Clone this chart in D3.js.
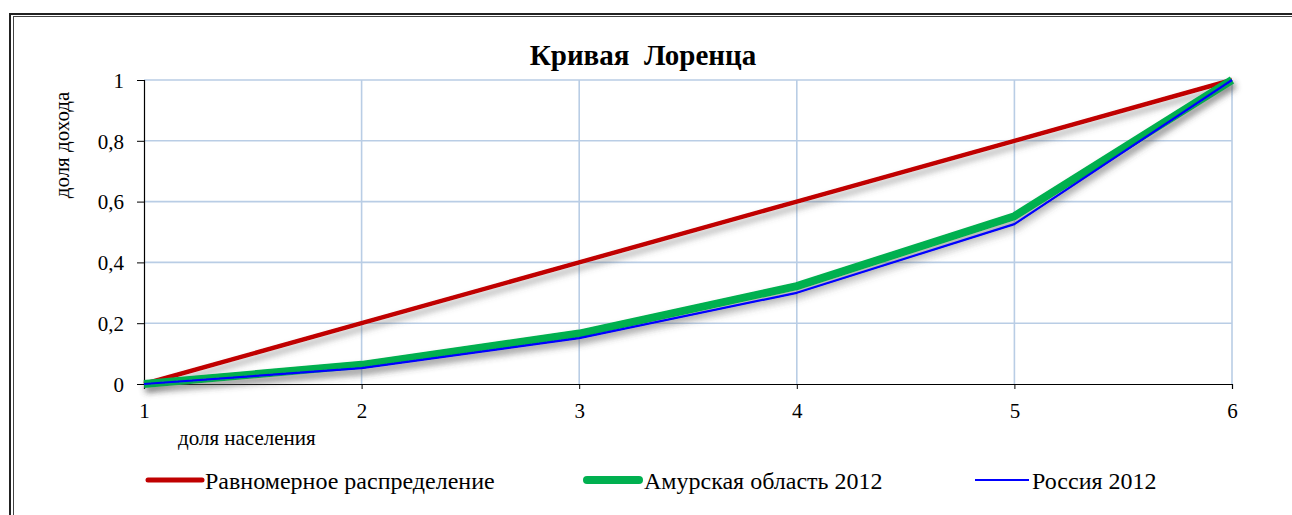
<!DOCTYPE html>
<html><head><meta charset="utf-8">
<script src="https://cdn.jsdelivr.net/npm/d3@7"></script>
<style>body{margin:0;background:#fff;}svg{display:block;}</style>
</head><body>
<script>
const xCategories = [1, 2, 3, 4, 5, 6];
const yTicks = [0, 0.2, 0.4, 0.6, 0.8, 1];
const yTickLabels = ["0", "0,2", "0,4", "0,6", "0,8", "1"];
const uniform = [0, 0.2, 0.4, 0.6, 0.8, 1];
const amur2012 = [0, 0.063, 0.166, 0.322, 0.552, 1];
const russia2012 = [0, 0.052, 0.151, 0.300, 0.526, 1];
const seriesNames = ["Равномерное распределение", "Амурская область 2012", "Россия 2012"];
const title = "Кривая  Лоренца";
const yLabel = "доля дохода";
const xLabel = "доля населения";

const W = 1292, H = 515;
const svg = d3.select("body").append("svg").attr("width", W).attr("height", H);
const defs = svg.append("defs");
const f = defs.append("filter").attr("id","sh").attr("x","-10%").attr("y","-10%").attr("width","130%").attr("height","130%");
f.append("feDropShadow").attr("dx",2).attr("dy",5).attr("stdDeviation",3).attr("flood-color","#555").attr("flood-opacity",0.5);

// border
svg.append("rect").attr("x",10).attr("y",14).attr("width",1300).attr("height",520).attr("fill","none").attr("stroke","#222").attr("stroke-width",2);
svg.append("rect").attr("x",13.5).attr("y",16.5).attr("width",1300).attr("height",520).attr("fill","none").attr("stroke","#444").attr("stroke-width",1);

const x = d3.scaleLinear().domain([1,6]).range([144,1232]);
const y = d3.scaleLinear().domain([0,1]).range([384,80]);
const font = "Liberation Serif, Times New Roman, serif";

// grid
const g = svg.append("g");
g.selectAll("line.h").data(yTicks.slice(1)).join("line")
  .attr("x1",x(1)).attr("x2",x(6)).attr("y1",d=>y(d)).attr("y2",d=>y(d))
  .attr("stroke","#b9cde5").attr("stroke-width",1.6);
g.selectAll("line.v").data(xCategories.slice(1)).join("line")
  .attr("x1",d=>x(d)).attr("x2",d=>x(d)).attr("y1",y(0)).attr("y2",y(1))
  .attr("stroke","#b9cde5").attr("stroke-width",1.6);

// axes
const yAxis = d3.axisLeft(y).tickValues(yTicks).tickFormat((d,i)=>yTickLabels[i]).tickSize(7).tickPadding(13);
const ya = svg.append("g").attr("transform",`translate(${x(1)},0)`).call(yAxis);
ya.attr("font-family",font).attr("font-size",21);
ya.select(".domain").attr("stroke","#000").attr("stroke-width",1.2);
ya.selectAll(".tick line").attr("stroke","#000");
ya.selectAll("text").attr("fill","#000").attr("dy","0.35em");

const xAxis = d3.axisBottom(x).tickValues(xCategories).tickFormat(d3.format("d")).tickSize(5).tickPadding(14);
const xa = svg.append("g").attr("transform",`translate(0,${y(0)})`).call(xAxis);
xa.attr("font-family",font).attr("font-size",21);
xa.select(".domain").attr("stroke","#000").attr("stroke-width",1.2);
xa.selectAll(".tick line").attr("stroke","#000");
xa.selectAll("text").attr("fill","#000");

// lines
const line = d3.line().x((d,i)=>x(xCategories[i])).y(d=>y(d));
const series = [
  {vals: uniform, color:"#c00000", w:4.5},
  {vals: amur2012, color:"#00b050", w:8},
  {vals: russia2012, color:"#0000ff", w:2.2}
];
series.forEach(s=>{
  svg.append("path").datum(s.vals).attr("d",line).attr("fill","none")
    .attr("stroke",s.color).attr("stroke-width",s.w).attr("stroke-linejoin","round")
    .attr("filter", "url(#sh)");
});

// title
svg.append("text").attr("x",643).attr("y",65).attr("text-anchor","middle")
  .attr("font-family",font).attr("font-weight","bold").attr("font-size",29)
  .style("white-space","pre").text(title);

// axis labels
svg.append("text").attr("transform","translate(69,145) rotate(-90)").attr("text-anchor","middle")
  .attr("font-family",font).attr("font-size",21).text(yLabel);
svg.append("text").attr("x",178).attr("y",445)
  .attr("font-family",font).attr("font-size",21).text(xLabel);

// legend
const legend = [
  {x1:148, x2:202, color:"#c00000", w:5, tx:205},
  {x1:587, x2:639, color:"#00b050", w:8, tx:644},
  {x1:975, x2:1029, color:"#0000ff", w:2.2, tx:1032}
];
legend.forEach((l,i)=>{
  svg.append("line").attr("x1",l.x1).attr("x2",l.x2).attr("y1",480).attr("y2",480)
    .attr("stroke",l.color).attr("stroke-width",l.w).attr("stroke-linecap", i<2?"round":"butt");
  svg.append("text").attr("x",l.tx).attr("y",489).attr("font-family",font).attr("font-size",24)
    .text(seriesNames[i]);
});
</script>
</body></html>
